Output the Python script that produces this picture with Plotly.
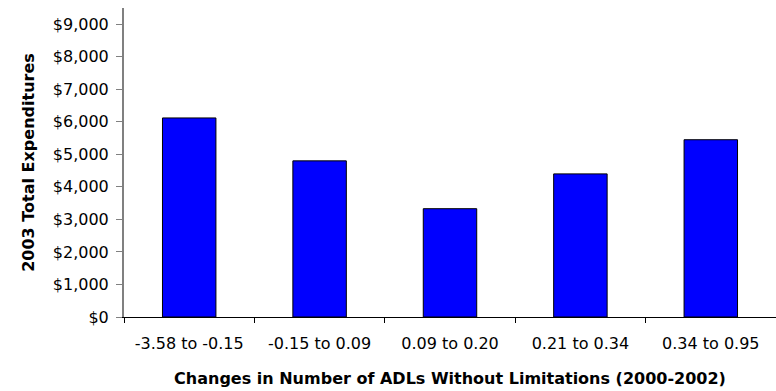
import plotly.graph_objects as go

# Expenditure groups by change in number of ADLs without limitations
categories = ["-3.58 to -0.15", "-0.15 to 0.09", "0.09 to 0.20", "0.21 to 0.34", "0.34 to 0.95"]
expenditures = [6120, 4800, 3330, 4400, 5450]
y_tick_values = [0, 1000, 2000, 3000, 4000, 5000, 6000, 7000, 8000, 9000]
y_tick_labels = ["$0", "$1,000", "$2,000", "$3,000", "$4,000", "$5,000",
                 "$6,000", "$7,000", "$8,000", "$9,000"]

font_family = "DejaVu Sans, Liberation Sans, Arial, sans-serif"

fig = go.Figure(
    go.Bar(
        x=categories,
        y=expenditures,
        width=0.41,
        marker=dict(color="#0000FF", line=dict(color="#000000", width=1)),
    )
)

fig.update_layout(
    width=776,
    height=391,
    margin=dict(l=124, r=0, t=8, b=74),
    paper_bgcolor="white",
    plot_bgcolor="white",
    showlegend=False,
    font=dict(family=font_family, color="#000000", size=16),
)

fig.update_xaxes(
    type="category",
    showgrid=False,
    showline=True,
    linecolor="#000000",
    linewidth=1,
    ticks="outside",
    tickson="boundaries",
    ticklen=5,
    tickcolor="#000000",
    tickfont=dict(size=16),
    ticklabelstandoff=12,
    title=dict(
        text="<b>Changes in Number of ADLs Without Limitations (2000-2002)</b>",
        font=dict(size=16),
        standoff=20,
    ),
)

fig.update_yaxes(
    range=[0, 9500],
    showgrid=False,
    zeroline=False,
    showline=True,
    linecolor="#808080",
    linewidth=2,
    ticks="outside",
    ticklen=6,
    tickcolor="#808080",
    tickvals=y_tick_values,
    ticktext=y_tick_labels,
    tickfont=dict(size=16),
    ticklabelstandoff=4,
    title=dict(
        text="<b>2003 Total Expenditures</b>",
        font=dict(size=16),
        standoff=14,
    ),
)

fig.write_html("out.html")
